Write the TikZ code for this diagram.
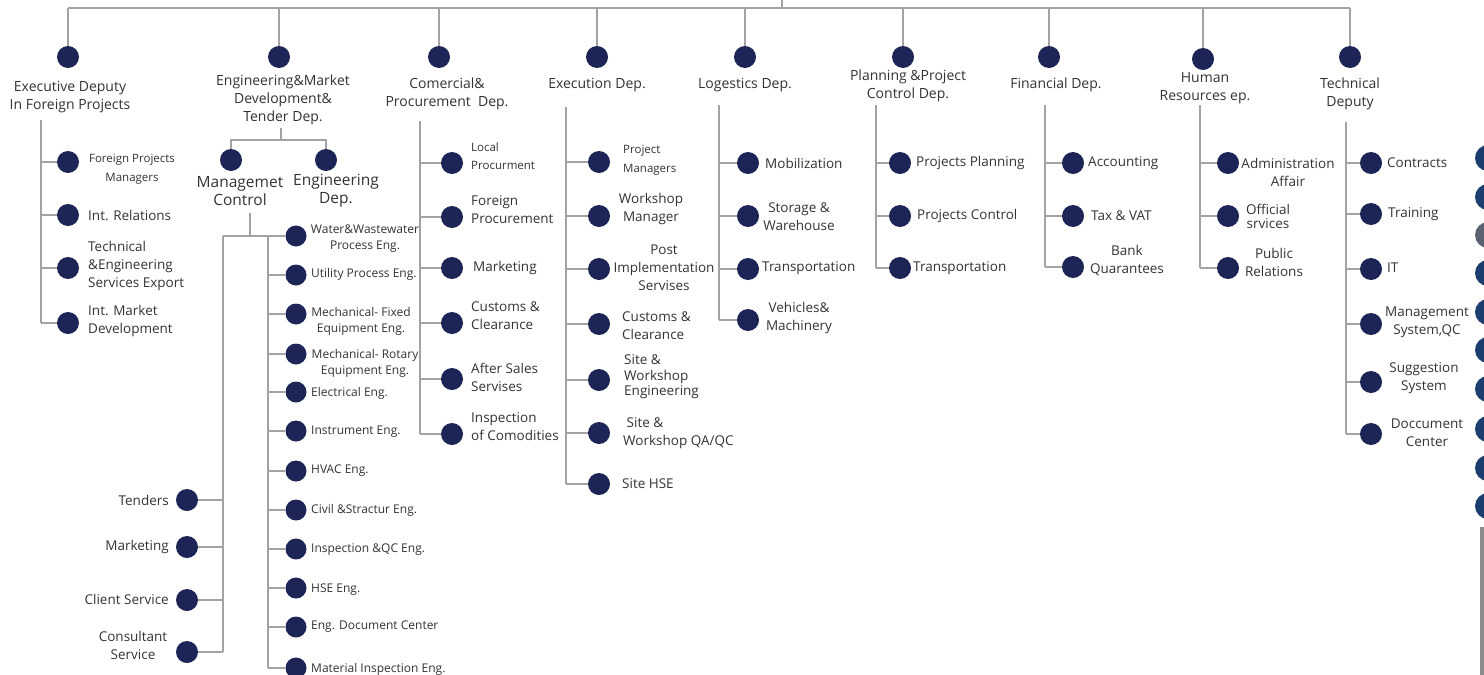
\documentclass[tikz,border=0pt]{standalone}
\usepackage{fontspec}
\setmainfont{Open Sans}
\definecolor{navy}{HTML}{1D2456}
\definecolor{linegray}{HTML}{A3A3A3}
\definecolor{txt}{HTML}{333333}
\definecolor{edgeblue}{HTML}{1C3E6E}
\definecolor{edgegray}{HTML}{5C6370}
\definecolor{bargray}{HTML}{8C8C8C}
\begin{document}
\begin{tikzpicture}[x=1pt,y=-1pt,
  dot/.style={circle,fill=navy,draw=none,minimum size=22pt,inner sep=0pt},
  edot/.style={dot,minimum size=21pt},
  conn/.style={draw=linegray,line width=1.5pt},
  toplbl/.style={text=txt,font=\fontsize{14}{18}\selectfont,align=center,inner sep=0pt},
  sub/.style={text=txt,font=\fontsize{13.5}{18}\selectfont,inner sep=0pt},
  subl/.style={sub,anchor=west,align=left},
  subc/.style={sub,align=center},
  big/.style={text=txt,font=\fontsize{15.5}{18}\selectfont,align=center,inner sep=0pt},
  sml/.style={text=txt,font=\fontsize{11.5}{18.5}\selectfont,inner sep=0pt},
  eng/.style={text=txt,font=\fontsize{12}{16}\selectfont,inner sep=0pt,anchor=west},
  engc/.style={text=txt,font=\fontsize{12}{16}\selectfont,inner sep=0pt,align=center}]
\useasboundingbox (0,0) rectangle (1484,675);
\clip (0,0) rectangle (1484,675);
\fill[white] (0,0) rectangle (1484,675);

% ---------- top level ----------
\coordinate (root) at (782,0);
\coordinate (bus) at (782,8);
\node[dot] (n1) at (68,57) {};
\node[dot] (n2) at (279,57) {};
\node[dot] (n3) at (439,57) {};
\node[dot] (n4) at (597,57) {};
\node[dot] (n5) at (745,57) {};
\node[dot] (n6) at (903,57) {};
\node[dot] (n7) at (1049,57) {};
\node[dot] (n8) at (1203,59) {};
\node[dot] (n9) at (1350,57) {};
\draw[conn] (root) -- (bus);
\draw[conn] (n1 |- bus) -- (n9 |- bus);
\foreach \i in {1,...,9} \draw[conn] (n\i |- bus) -- (n\i);

\node[toplbl] (L1) at (70,97) {Executive Deputy\\In Foreign Projects};
\node[toplbl] (L2) at (283,100) {Engineering\&Market\\Development\&\\Tender Dep.};
\node[toplbl] (L3) at (447,94) {Comercial\&\\Procurement\ \ Dep.};
\node[toplbl] (L4) at (597,85) {Execution Dep.};
\node[toplbl] (L5) at (745,85) {Logestics Dep.};
\node[toplbl] (L6) at (908,86) {Planning \&Project\\Control Dep.};
\node[toplbl] (L7) at (1056,85) {Financial Dep.};
\node[toplbl] (L8) at (1205,88) {Human\\Resources ep.};
\node[toplbl] (L9) at (1350,94) {Technical\\Deputy};

% ---------- column 1 ----------
\coordinate (t1) at (41,120);
\node[dot] (d11) at (68,162) {};
\node[dot] (d12) at (68,215) {};
\node[dot] (d13) at (68,268) {};
\node[dot] (d14) at (68,323) {};
\draw[conn] (t1) -- (t1 |- d14);
\foreach \i in {1,...,4} \draw[conn] (t1 |- d1\i) -- (d1\i);
\node[sml,align=center] (s11) at (132,169) {Foreign Projects\\Managers};
\node[subl] (s12) at (88,215) {Int. Relations};
\node[subl] (s13) at (88,266) {Technical\\\&Engineering\\Services Export};
\node[subl] (s14) at (88,321) {Int. Market\\Development};

% ---------- column 2 ----------
\coordinate (e2top) at (281,128);
\coordinate (e2j) at (281,140);
\node[dot] (d2a) at (231,160) {};
\node[dot] (d2b) at (326,160) {};
\draw[conn] (e2top) -- (e2j);
\draw[conn] (d2a) |- (e2j) -| (d2b);
\node[big] (s2a) at (240,191) {Managemet\\Control};
\node[big] (s2b) at (336,191) {Engineering\\Dep.};

\coordinate (mc) at (250,213);
\coordinate (mcj) at (250,236);
\coordinate (lt) at (223,236);
\coordinate (rt) at (268,236);
\node[edot] (r1) at (296,236) {};
\node[edot] (r2) at (296,275) {};
\node[edot] (r3) at (296,314) {};
\node[edot] (r4) at (296,354) {};
\node[edot] (r5) at (296,392) {};
\node[edot] (r6) at (296,431) {};
\node[edot] (r7) at (296,471) {};
\node[edot] (r8) at (296,510) {};
\node[edot] (r9) at (296,549) {};
\node[edot] (r10) at (296,588) {};
\node[edot] (r11) at (296,627) {};
\node[edot] (r12) at (296,668) {};
\node[dot] (l1) at (187,500) {};
\node[dot] (l2) at (187,547) {};
\node[dot] (l3) at (187,600) {};
\node[dot] (l4) at (187,652) {};
\draw[conn] (mc) -- (mcj);
\draw[conn] (lt) -- (r1);
\draw[conn] (lt) -- (lt |- l4);
\draw[conn] (rt) -- (rt |- r12);
\foreach \i in {2,...,12} \draw[conn] (rt |- r\i) -- (r\i);
\foreach \i in {1,...,4} \draw[conn] (lt |- l\i) -- (l\i);

\node[engc] (q1) at (365,239) {Water\&Wastewater\\Process Eng.};
\node[eng] (q2) at (311,274) {Utility Process Eng.};
\node[engc] (q3) at (361,321) {Mechanical- Fixed\\Equipment Eng.};
\node[engc] (q4) at (365,363) {Mechanical- Rotary\\Equipment Eng.};
\node[eng] (q5) at (311,393) {Electrical Eng.};
\node[eng] (q6) at (311,432) {Instrument Eng.};
\node[eng] (q7) at (311,471) {HVAC Eng.};
\node[eng] (q8) at (311,510) {Civil \&Stractur Eng.};
\node[eng] (q9) at (311,550) {Inspection \&QC Eng.};
\node[eng] (q10) at (311,590) {HSE Eng.};
\node[eng] (q11) at (311,627) {Eng. Document Center};
\node[eng] (q12) at (311,669) {Material Inspection Eng.};

\node[sub,anchor=east] (p1) at (169,500) {Tenders};
\node[sub,anchor=east] (p2) at (169,547) {Marketing};
\node[sub,anchor=east] (p3) at (169,599) {Client Service};
\node[subc] (p4) at (133,645) {Consultant\\Service};

% ---------- column 3 ----------
\coordinate (t3) at (420,121);
\node[dot] (d31) at (452,163) {};
\node[dot] (d32) at (452,217) {};
\node[dot] (d33) at (452,268) {};
\node[dot] (d34) at (452,323) {};
\node[dot] (d35) at (452,379) {};
\node[dot] (d36) at (452,434) {};
\draw[conn] (t3) -- (t3 |- d36);
\foreach \i in {1,...,6} \draw[conn] (t3 |- d3\i) -- (d3\i);
\node[sml,anchor=west,align=left] (s31) at (471,156) {Local\\Procurment};
\node[subl] (s32) at (471,210) {Foreign\\Procurement};
\node[subl] (s33) at (473,268) {Marketing};
\node[subl] (s34) at (471,316) {Customs \&\\Clearance};
\node[subl] (s35) at (471,377) {After Sales\\Servises};
\node[subl] (s36) at (471,427) {Inspection\\of Comodities};

% ---------- column 4 ----------
\coordinate (t4) at (566,107);
\node[dot] (d41) at (599,162) {};
\node[dot] (d42) at (599,216) {};
\node[dot] (d43) at (599,269) {};
\node[dot] (d44) at (599,324) {};
\node[dot] (d45) at (599,380) {};
\node[dot] (d46) at (599,433) {};
\node[dot] (d47) at (599,484) {};
\draw[conn] (t4) -- (t4 |- d47);
\foreach \i in {1,...,7} \draw[conn] (t4 |- d4\i) -- (d4\i);
\node[sml,anchor=west,align=left] (s41) at (623,160) {Project\\Managers};
\node[subc] (s42) at (651,209) {Workshop\\Manager};
\node[subc] (s43) at (664,268) {Post\\Implementation\\Servises};
\node[subl] (s44) at (622,326) {Customs \&\\Clearance};
\node[sub,anchor=west,align=left,font=\fontsize{13.5}{15.5}\selectfont] (s45) at (624,377) {Site \&\\Workshop\\Engineering};
\node[subl] (s46) at (623,433) {\ Site \&\\Workshop QA/QC};
\node[subl] (s47) at (622,484) {Site HSE};

% ---------- column 5 ----------
\coordinate (t5) at (719,105);
\node[dot] (d51) at (748,163) {};
\node[dot] (d52) at (748,216) {};
\node[dot] (d53) at (748,269) {};
\node[dot] (d54) at (748,320) {};
\draw[conn] (t5) -- (t5 |- d54);
\foreach \i in {1,...,4} \draw[conn] (t5 |- d5\i) -- (d5\i);
\node[subl] (s51) at (765,163) {Mobilization};
\node[subc] (s52) at (799,217) {Storage \&\\Warehouse};
\node[subl] (s53) at (762,268) {Transportation};
\node[subc] (s54) at (799,318) {Vehicles\&\\Machinery};

% ---------- column 6 ----------
\coordinate (t6) at (876,105);
\node[dot] (d61) at (900,163) {};
\node[dot] (d62) at (900,216) {};
\node[dot] (d63) at (900,268) {};
\draw[conn] (t6) -- (t6 |- d63);
\foreach \i in {1,...,3} \draw[conn] (t6 |- d6\i) -- (d6\i);
\node[subl] (s61) at (916,163) {Projects Planning};
\node[subl] (s62) at (917,216) {Projects Control};
\node[subl] (s63) at (913,268) {Transportation};

% ---------- column 7 ----------
\coordinate (t7) at (1045,105);
\node[dot] (d71) at (1073,163) {};
\node[dot] (d72) at (1073,216) {};
\node[dot] (d73) at (1073,267) {};
\draw[conn] (t7) -- (t7 |- d73);
\foreach \i in {1,...,3} \draw[conn] (t7 |- d7\i) -- (d7\i);
\node[subl] (s71) at (1088,163) {Accounting};
\node[subl] (s72) at (1091,216) {Tax \& VAT};
\node[subc] (s73) at (1127,261) {Bank\\Quarantees};

% ---------- column 8 ----------
\coordinate (t8) at (1200,105);
\node[dot] (d81) at (1228,163) {};
\node[dot] (d82) at (1228,216) {};
\node[dot] (d83) at (1228,268) {};
\draw[conn] (t8) -- (t8 |- d83);
\foreach \i in {1,...,3} \draw[conn] (t8 |- d8\i) -- (d8\i);
\node[subc] (s81) at (1288,172) {Administration\\Affair};
\node[subc,font=\fontsize{13.5}{14}\selectfont] (s82) at (1268,216) {Official\\srvices};
\node[subc] (s83) at (1274,262) {Public\\Relations};

% ---------- column 9 ----------
\coordinate (t9) at (1346,122);
\node[dot] (d91) at (1371,163) {};
\node[dot] (d92) at (1371,214) {};
\node[dot] (d93) at (1371,269) {};
\node[dot] (d94) at (1371,324) {};
\node[dot] (d95) at (1371,382) {};
\node[dot] (d96) at (1371,434) {};
\draw[conn] (t9) -- (t9 |- d96);
\foreach \i in {1,...,6} \draw[conn] (t9 |- d9\i) -- (d9\i);
\node[subl] (s91) at (1387,163) {Contracts};
\node[subl] (s92) at (1388,214) {Training};
\node[subl] (s93) at (1387,268) {IT};
\node[subc] (s94) at (1427,322) {Management\\System,QC};
\node[subc] (s95) at (1424,378) {Suggestion\\System};
\node[subc] (s96) at (1427,433) {Doccument\\Center};

% ---------- cut-off shapes at the right edge ----------
\foreach \y in {158,197,273,312,350,389,429,468,506}
  \fill[edgeblue] (1488,\y) circle (13);
\fill[edgegray] (1488,235) circle (13);
\fill[bargray] (1480,527) rectangle (1484,675);
\end{tikzpicture}
\end{document}
